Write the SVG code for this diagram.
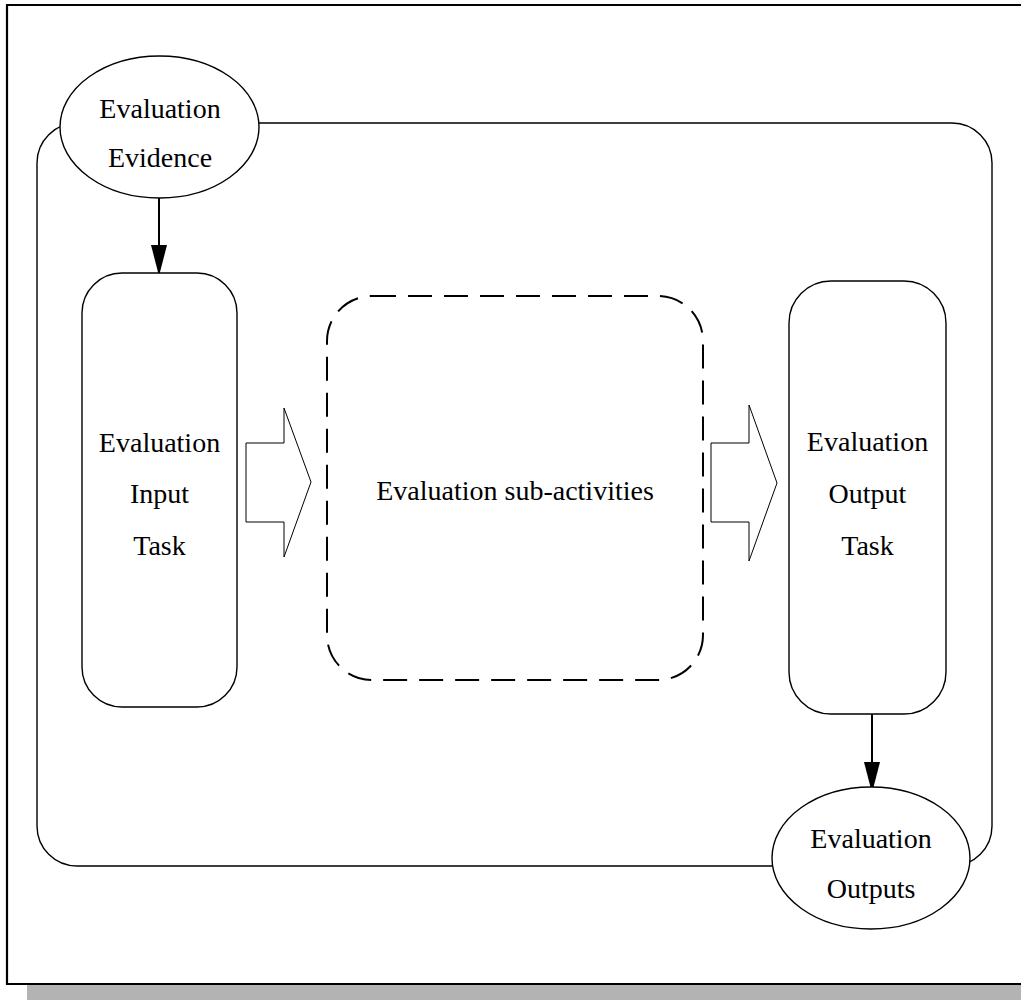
<svg xmlns="http://www.w3.org/2000/svg" width="1021" height="1000" viewBox="0 0 1021 1000">
  <style>
    .label { font-family: "Liberation Serif", "Times New Roman", serif; font-size: 28px; fill: #000; text-anchor: middle; }
    .shape { fill: #fff; stroke: #000; stroke-width: 1.4; }
    .flow { stroke: #000; stroke-width: 2; fill: none; }
    .block { fill: #fff; stroke: #000; stroke-width: 1; }
  </style>
  <defs>
    <marker id="head" viewBox="0 0 16 31" refX="16" refY="8" markerWidth="16" markerHeight="31" markerUnits="userSpaceOnUse" orient="auto">
      <path d="M0 0 L31 8 L0 16 Z" fill="#000" transform="translate(0,0)"/>
    </marker>
    <marker id="tri" viewBox="0 0 31 16" refX="31" refY="8" markerWidth="31" markerHeight="16" markerUnits="userSpaceOnUse" orient="auto">
      <path d="M0 0 L31 8 L0 16 Z" fill="#000"/>
    </marker>
  </defs>

  <rect x="0" y="0" width="1021" height="1000" fill="#fff"/>

  <!-- page frame and shadow -->
  <rect x="27" y="985" width="994" height="15" fill="#b3b3b3"/>
  <path d="M1023 5 H7 V984 H1023" fill="none" stroke="#000" stroke-width="2.2"/>

  <!-- overall activity boundary -->
  <g id="activity-boundary">
    <rect x="37" y="123" width="955" height="743" rx="40" ry="40" fill="none" stroke="#000" stroke-width="1.4"/>
  </g>

  <!-- connectors -->
  <g id="connectors">
    <line class="flow" x1="159" y1="198" x2="159" y2="276" marker-end="url(#tri)"/>
    <line class="flow" x1="872" y1="714" x2="872" y2="793" marker-end="url(#tri)"/>
    <path class="block" d="M246 443 H284 V408 L311 482 L284 557 V522 H246 Z"/>
    <path class="block" d="M711 443 H749 V405 L777 483 L749 561 V522 H711 Z"/>
  </g>

  <g id="evaluation-evidence">
    <ellipse class="shape" cx="159.5" cy="127" rx="99.5" ry="71"/>
    <text class="label" x="160" y="118">Evaluation</text>
    <text class="label" x="160" y="167">Evidence</text>
  </g>

  <g id="evaluation-input-task">
    <rect class="shape" x="82" y="273" width="155" height="434" rx="40" ry="40"/>
    <text class="label" x="159.5" y="452">Evaluation</text>
    <text class="label" x="159.5" y="503">Input</text>
    <text class="label" x="159.5" y="555">Task</text>
  </g>

  <g id="evaluation-sub-activities">
    <rect x="327" y="296" width="376" height="384" rx="45" ry="45" fill="none" stroke="#000" stroke-width="2" stroke-dasharray="24 12"/>
    <text class="label" x="515" y="500">Evaluation sub-activities</text>
  </g>

  <g id="evaluation-output-task">
    <rect class="shape" x="789" y="281" width="157" height="433" rx="42" ry="42"/>
    <text class="label" x="867.5" y="451">Evaluation</text>
    <text class="label" x="867.5" y="503">Output</text>
    <text class="label" x="867.5" y="555">Task</text>
  </g>

  <g id="evaluation-outputs">
    <ellipse class="shape" cx="871" cy="858" rx="99" ry="71"/>
    <text class="label" x="871" y="848">Evaluation</text>
    <text class="label" x="871" y="898">Outputs</text>
  </g>
</svg>
